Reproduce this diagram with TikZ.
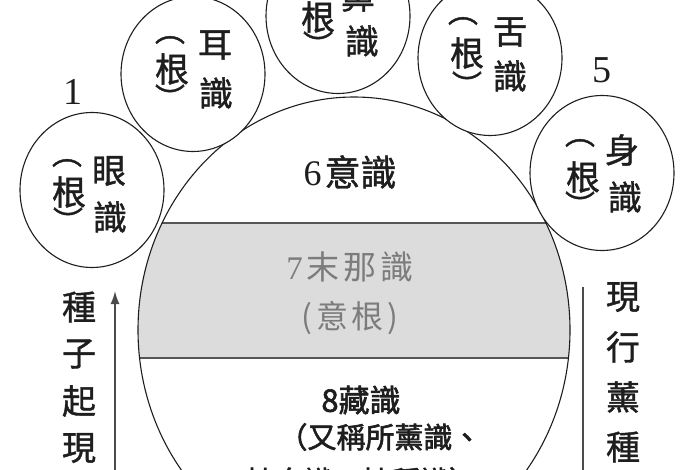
\documentclass[tikz,border=0pt]{standalone}
\usepackage{fontspec}
\setmainfont{Liberation Serif}
\newfontfamily\cjk[FakeBold=1.2]{Noto Sans CJK TC}
\newfontfamily\cjkwide[LetterSpace=12]{Noto Sans CJK TC}
\newfontfamily\cjkbold[FakeBold=2]{Noto Sans CJK TC}
\usetikzlibrary{arrows.meta}
\usetikzlibrary{shapes.geometric}

\definecolor{bandgray}{HTML}{DCDCDC}
\definecolor{inkgray}{HTML}{7C7C7C}
\definecolor{ink}{HTML}{1E1E1E}

\tikzset{
  sense/.style={ellipse, draw=ink, line width=1.1pt, fill=white,
    minimum width=144pt, minimum height=155pt, inner sep=0pt},
  hanzi/.style={font=\cjk\fontsize{34}{34}\selectfont, text=ink, inner sep=0pt},
  paren/.style={font=\cjk\fontsize{30}{30}\selectfont, text=ink, inner sep=0pt},
  numlabel/.style={font=\fontsize{38}{38}\selectfont, text=ink, inner sep=0pt},
  flow/.style={draw=ink!80, line width=1.6pt},
}

\begin{document}
\begin{tikzpicture}[x=1pt, y=-1pt]
  \useasboundingbox (0,0) rectangle (700,470);
  \clip (0,0) rectangle (700,470);

  % the mind circle and its middle band
  \begin{scope}
    \clip (354,330) ellipse [x radius=216, y radius=233];
    \fill[bandgray] (130,223) rectangle (580,358);
    \draw[draw=ink!75, line width=2.2pt] (130,223) -- (580,223);
    \draw[draw=ink!75, line width=2.2pt] (130,358) -- (580,358);
  \end{scope}
  \node[ellipse, draw=ink, line width=1.1pt, minimum width=432pt,
    minimum height=466pt, inner sep=0pt] (alaya) at (354,330) {};

  \node[font=\fontsize{36}{36}\selectfont, text=ink] (sixth) at (350,172)
    {6\hspace{3pt}{\cjk 意識}};
  \node[font=\fontsize{33}{33}\selectfont, text=inkgray] (seventh) at (350,267)
    {7\hspace{4pt}{\cjkwide 末那識}};
  \node[font=\cjkwide\fontsize{32}{32}\selectfont, text=inkgray] (manas) at (350,318)
    {(意根)};
  \node[font=\cjkbold\fontsize{31}{31}\selectfont, text=ink] (eighth) at (361,400)
    {8藏識};
  \node[font=\cjkbold\fontsize{29}{29}\selectfont, text=ink] (alias) at (380,437)
    {（又稱所薰識、};
  \node[font=\cjkbold\fontsize{29}{29}\selectfont, text=ink] (aliasb) at (362,481)
    {持身識、持種識）};

  % five sense circles
  \node[sense] (eye) at (92,190) {};
  \node[sense] (ear) at (193,74) {};
  \node[sense] (nose) at (338,16) {};
  \node[sense] (tongue) at (490,58) {};
  \node[sense] (body) at (602,173) {};

  \node[paren] (eyeup) at (67,163) {︵};
  \node[hanzi] (eyeroot) at (69,192) {根};
  \node[paren] (eyedown) at (68,220) {︶};
  \node[hanzi] (eyename) at (109,171) {眼};
  \node[hanzi] (eyeshi) at (110,217) {識};

  \node[paren] (earup) at (170,40) {︵};
  \node[hanzi] (earroot) at (172,69) {根};
  \node[paren] (eardown) at (170,97) {︶};
  \node[hanzi] (earname) at (215,45) {耳};
  \node[hanzi] (earshi) at (216,93) {識};

  \node[hanzi] (noseroot) at (318,17) {根};
  \node[paren] (nosedown) at (318,44) {︶};
  \node[hanzi] (nosename) at (358,-4) {鼻};
  \node[hanzi] (noseshi) at (362,41) {識};

  \node[paren] (tongueup) at (463,21) {︵};
  \node[hanzi] (tongueroot) at (467,53) {根};
  \node[paren] (tonguedown) at (467,84) {︶};
  \node[hanzi] (tonguename) at (510,32) {舌};
  \node[hanzi] (tongueshi) at (510,76) {識};

  \node[paren] (bodyup) at (580,143) {︵};
  \node[hanzi] (bodyroot) at (583,177) {根};
  \node[paren] (bodydown) at (580,204) {︶};
  \node[hanzi] (bodyname) at (622,150) {身};
  \node[hanzi] (bodyshi) at (625,197) {識};

  \node[numlabel] (one) at (73,92) {1};
  \node[numlabel] (five) at (602,70) {5};

  % seeds rise / current acts perfume
  \foreach \ch [count=\i] in {種,子,起,現}{
    \node[hanzi] (rise\i) at (79,260+47*\i) {\ch};
  }
  \foreach \ch [count=\i] in {現,行,薰,種}{
    \node[hanzi] (perfume\i) at (623,247+50*\i) {\ch};
  }

  \coordinate (risetail) at (115,480);
  \coordinate (risetip) at (115,291);
  \draw[flow, -{Latex[length=13pt, width=9pt]}] (risetail) -- (risetip);
  \coordinate (perfumetop) at (583,287);
  \coordinate (perfumeend) at (583,480);
  \draw[flow] (perfumetop) -- (perfumeend);

\end{tikzpicture}
\end{document}
